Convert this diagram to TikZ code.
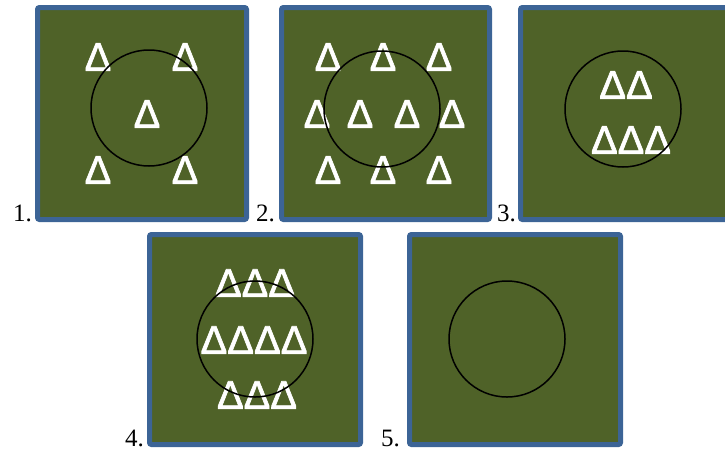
\documentclass[tikz,border=0pt]{standalone}
\usepackage{fontspec}
\setmainfont{Liberation Serif}
\newfontfamily\trifont{Liberation Sans}[FakeBold=1.6]
\definecolor{panelgreen}{RGB}{79,98,40}
\definecolor{panelblue}{RGB}{60,100,150}
\tikzset{
  panel/.style={fill=panelgreen, draw=panelblue, line width=5pt, rounded corners=2pt},
  ring/.style={draw=black, line width=1.5pt},
  tri/.style={text=white, inner sep=0pt, font=\trifont\fontsize{40}{40}\selectfont},
  lbl/.style={anchor=base east, inner sep=0pt, font=\fontsize{25}{25}\selectfont}
}
\begin{document}
\begin{tikzpicture}[x=1pt,y=-1pt]
\useasboundingbox (0,0) rectangle (725,453);
\begin{scope}
\clip (0,0) rectangle (725,453);
% panels
\draw[panel] (37.5,7.5) rectangle (246.5,219.5);
\draw[panel] (281.5,7.5) rectangle (489.5,219.5);
\draw[panel] (520.5,7.5) rectangle (740,219.5);
\draw[panel] (149.5,234.5) rectangle (360.5,444.5);
\draw[panel] (409.5,234.5) rectangle (620.5,444.5);
\end{scope}
% panel 1
\node[tri] (a1) at (98,57) {Δ};
\node[tri] (a2) at (185,57) {Δ};
\node[tri] (a3) at (147,114) {Δ};
\node[tri] (a4) at (98,170) {Δ};
\node[tri] (a5) at (185,170) {Δ};
\draw[ring] (149,108) circle (58);
% panel 2
\node[tri] (b1) at (328,57) {Δ};
\node[tri] (b2) at (383,57) {Δ};
\node[tri] (b3) at (439,57) {Δ};
\node[tri] (b4) at (317,114) {Δ};
\node[tri] (b5) at (360,114) {Δ};
\node[tri] (b6) at (407,114) {Δ};
\node[tri] (b7) at (452,114) {Δ};
\node[tri] (b8) at (328,170) {Δ};
\node[tri] (b9) at (383,170) {Δ};
\node[tri] (b10) at (439,170) {Δ};
\draw[ring] (382,109) circle (58);
% panel 3
\node[tri] (c1) at (626,85) {ΔΔ};
\node[tri] (c2) at (631,140) {ΔΔΔ};
\draw[ring] (623,109) circle (58);
% panel 4
\node[tri] (d1) at (255,283) {ΔΔΔ};
\node[tri] (d2) at (254,340) {ΔΔΔΔ};
\node[tri] (d3) at (257,395) {ΔΔΔ};
\draw[ring] (255,339) circle (58);
% panel 5
\draw[ring] (507,339) circle (58);
% labels
\node[lbl] (l1) at (32,221) {1.};
\node[lbl] (l2) at (275,221) {2.};
\node[lbl] (l3) at (516,221) {3.};
\node[lbl] (l4) at (144,446) {4.};
\node[lbl] (l5) at (400,446) {5.};
\end{tikzpicture}
\end{document}
